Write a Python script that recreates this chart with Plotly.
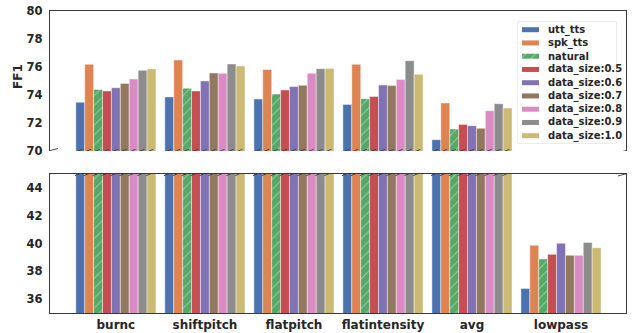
import plotly.graph_objects as go

categories = ["burnc", "shiftpitch", "flatpitch", "flatintensity", "avg", "lowpass"]
series_names = ["utt_tts", "spk_tts", "natural", "data_size:0.5", "data_size:0.6",
                "data_size:0.7", "data_size:0.8", "data_size:0.9", "data_size:1.0"]

utt_tts = [73.48, 73.86, 73.71, 73.33, 70.81, 36.77]
spk_tts = [76.19, 76.50, 75.83, 76.19, 73.43, 39.87]
natural = [74.40, 74.48, 74.07, 73.74, 71.57, 38.88]
ds_05 = [74.29, 74.29, 74.36, 73.90, 71.90, 39.22]
ds_06 = [74.52, 75.00, 74.60, 74.71, 71.81, 40.01]
ds_07 = [74.83, 75.57, 74.69, 74.67, 71.62, 39.15]
ds_08 = [75.14, 75.55, 75.55, 75.10, 72.88, 39.15]
ds_09 = [75.76, 76.21, 75.88, 76.45, 73.38, 40.08]
ds_10 = [75.86, 76.07, 75.90, 75.48, 73.07, 39.70]
series_values = [utt_tts, spk_tts, natural, ds_05, ds_06, ds_07, ds_08, ds_09, ds_10]

top_ticks = [70, 72, 74, 76, 78, 80]
bottom_ticks = [36, 38, 40, 42, 44]
top_range = [70, 80]
bottom_range = [35, 45]

colors = ["#4C72B0", "#DD8452", "#55A868", "#C44E52", "#8172B3",
          "#937860", "#DA8BC3", "#8C8C8C", "#CCB974"]

FONT = "DejaVu Sans"
AX = "#3a3a3a"
TXT = "#262626"
W, H = 638, 333
ML, MR, MT, MB = 50, 12, 11, 20
PW, PH = W - ML - MR, H - MT - MB
xpos = list(range(len(categories)))
xrange_ = [-0.74, 5.73]


def px_x(p):
    return (p - ML) / PW


def px_y(p):
    return (H - MB - p) / PH


def hatch(name, color):
    if name == "natural":
        return dict(shape="/", fgcolor="rgba(255,255,255,0.75)", bgcolor=color,
                    size=7, solidity=0.15)
    return None


fig = go.Figure()
for i, (name, vals) in enumerate(zip(series_names, series_values)):
    for axis in ("", "2"):
        fig.add_trace(go.Bar(
            x=xpos, y=vals, name=name, showlegend=False,
            xaxis="x" + axis, yaxis="y" + axis,
            marker=dict(color=colors[i], line=dict(color="rgba(255,255,255,0.55)", width=0.8),
                        pattern=hatch(name, colors[i])),
        ))

# break slashes on bars that cross the break
nser = len(series_names)
sx_top, sy_top, sx_bot, sy_bot = [], [], [], []
for ci, c in enumerate(xpos):
    for si in range(nser):
        v = series_values[si][ci]
        if v >= top_range[0]:
            left = c - 0.45 + 0.1 * si
            sx_top += [left - 0.01, left + 0.07, None]
            sy_top += [top_range[0] - 0.1, top_range[0] + 0.12, None]
            sx_bot += [left - 0.01, left + 0.07, None]
            sy_bot += [bottom_range[1] - 0.12, bottom_range[1] + 0.1, None]
for xe in xrange_:
    sx_top += [xe - 0.09, xe + 0.09, None]
    sy_top += [top_range[0] - 0.12, top_range[0] + 0.18, None]
    sx_bot += [xe - 0.09, xe + 0.09, None]
    sy_bot += [bottom_range[1] - 0.14, bottom_range[1] + 0.16, None]

fig.add_trace(go.Scatter(x=sx_top, y=sy_top, mode="lines", xaxis="x2", yaxis="y2",
                         line=dict(color=AX, width=0.9), showlegend=False,
                         cliponaxis=False, hoverinfo="skip"))
fig.add_trace(go.Scatter(x=sx_bot, y=sy_bot, mode="lines", xaxis="x", yaxis="y",
                         line=dict(color=AX, width=0.9), showlegend=False,
                         cliponaxis=False, hoverinfo="skip"))

# custom compact legend drawn on its own small axis (units = pixels)
LEG_L, LEG_R, LEG_T, LEG_B = 518, 616, 22, 143
row_h = (LEG_B - LEG_T - 15) / (nser - 1)
annotations = []
for i, name in enumerate(series_names):
    yrow = 7.7 + row_h * i
    fig.add_trace(go.Bar(
        y=[yrow], x=[17], base=[4], orientation="h", width=5,
        xaxis="x3", yaxis="y3", showlegend=False, hoverinfo="skip",
        marker=dict(color=colors[i], line=dict(width=0),
                    pattern=hatch(name, colors[i])),
    ))
    annotations.append(dict(text=name, x=28, y=yrow, xref="x3", yref="y3",
                            xanchor="left", yanchor="middle", showarrow=False,
                            font=dict(family=FONT, size=10, color=TXT, weight="bold")))

annotations.append(dict(text="<b>FF1</b>", xref="paper", yref="paper",
                        x=px_x(18), y=px_y(77), textangle=-90, showarrow=False,
                        xanchor="center", yanchor="middle",
                        font=dict(family=FONT, size=12, color=TXT)))

tickfont = dict(family=FONT, size=11.5, color=TXT, weight="bold")

fig.update_layout(
    width=W, height=H,
    margin=dict(l=ML, r=MR, t=MT, b=MB, autoexpand=False),
    paper_bgcolor="white", plot_bgcolor="white",
    barmode="group", bargap=0.1, bargroupgap=0,
    font=dict(family=FONT),
    showlegend=False,
    xaxis=dict(domain=[0, 1], range=xrange_, tickvals=xpos, ticktext=categories,
               showline=True, mirror=True, linecolor=AX, linewidth=1.3,
               showgrid=False, zeroline=False, ticks="", automargin=False,
               tickfont=dict(family=FONT, size=12, color=TXT, weight="bold")),
    yaxis=dict(domain=[0, px_y(174)], range=bottom_range, tickvals=bottom_ticks,
               showline=True, mirror=True, linecolor=AX, linewidth=1.3,
               showgrid=False, zeroline=False, ticks="", tickfont=tickfont,
               ticklabelstandoff=4, automargin=False),
    xaxis2=dict(domain=[0, 1], range=xrange_, anchor="y2", side="top",
                showline=True, mirror=False, linecolor=AX, linewidth=1.3,
                showticklabels=False, showgrid=False, zeroline=False, ticks="",
                automargin=False),
    yaxis2=dict(domain=[px_y(151), 1], range=top_range, tickvals=top_ticks, anchor="x2",
                showline=True, mirror=True, linecolor=AX, linewidth=1.3,
                showgrid=False, zeroline=False, ticks="", tickfont=tickfont,
                ticklabelstandoff=4, automargin=False),
    xaxis3=dict(domain=[px_x(LEG_L), px_x(LEG_R)], range=[0, LEG_R - LEG_L], anchor="y3",
                visible=False, fixedrange=True),
    yaxis3=dict(domain=[px_y(LEG_B), px_y(LEG_T)], range=[LEG_B - LEG_T, 0], anchor="x3",
                visible=False, fixedrange=True),
    shapes=[dict(type="rect", xref="paper", yref="paper",
                 x0=px_x(LEG_L), x1=px_x(LEG_R), y0=px_y(LEG_B), y1=px_y(LEG_T),
                 line=dict(color="#dcdcdc", width=1), fillcolor="white", layer="below")],
    annotations=annotations,
)

fig.write_html("out.html", config={"displayModeBar": False},
               post_script="document.body.style.margin='0';document.body.style.overflow='hidden';")
